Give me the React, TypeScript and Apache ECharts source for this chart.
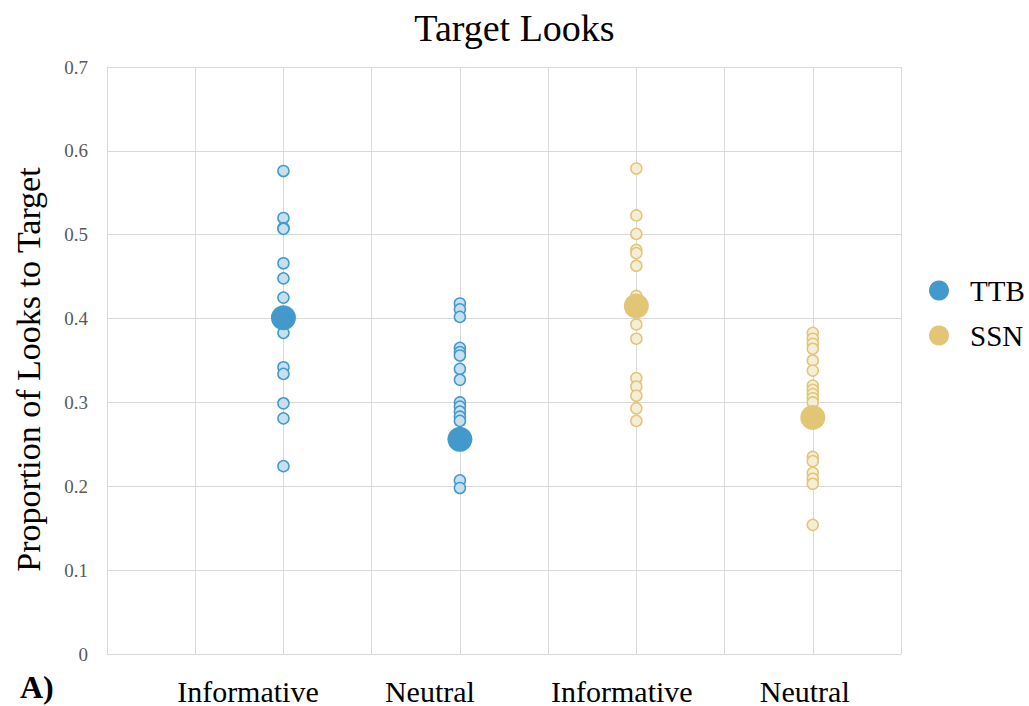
import React, { useEffect, useRef } from "react";
import * as echarts from "echarts";

const categories = ["Informative", "Neutral", "Informative", "Neutral"];
const yTicks = [0, 0.1, 0.2, 0.3, 0.4, 0.5, 0.6, 0.7];

const ttbInformative = [0.576, 0.52, 0.508, 0.507, 0.466, 0.448, 0.425, 0.405, 0.395, 0.383, 0.342, 0.334, 0.299, 0.281, 0.224];
const ttbNeutral = [0.418, 0.411, 0.402, 0.365, 0.36, 0.356, 0.34, 0.327, 0.3, 0.295, 0.289, 0.283, 0.278, 0.207, 0.198];
const ssnInformative = [0.579, 0.523, 0.501, 0.482, 0.478, 0.463, 0.427, 0.393, 0.376, 0.329, 0.319, 0.308, 0.293, 0.278];
const ssnNeutral = [0.383, 0.376, 0.37, 0.364, 0.35, 0.338, 0.32, 0.315, 0.31, 0.305, 0.3, 0.235, 0.23, 0.216, 0.209, 0.203, 0.154];

const ttbMeans = [0.401, 0.256];
const ssnMeans = [0.415, 0.282];

const BLUE = "#4499cc";
const GOLD = "#e2c676";
const FONT = "'Liberation Serif', 'Times New Roman', serif";

export default function App() {
  const ref = useRef<HTMLDivElement>(null);
  useEffect(() => {
    if (!ref.current) return;
    const chart = echarts.init(ref.current, null, { renderer: "svg" });
    const pts = (x: number, arr: number[]) => arr.map((v) => [x, v]);
    const small = (color: string, fill: string) => ({
      type: "scatter",
      symbolSize: 11,
      itemStyle: { color: fill, borderColor: color, borderWidth: 1.5, opacity: 1 },
      z: 2,
    });
    const labelStyle = (padRight: number) => ({
      fontFamily: FONT,
      fontSize: 30,
      color: "#000",
      padding: [0, padRight, 0, 0],
    });
    chart.setOption({
      animation: false,
      title: {
        text: "Target Looks",
        left: "center",
        top: 4,
        textStyle: { fontFamily: FONT, fontSize: 38, fontWeight: "normal", color: "#000" },
      },
      legend: {
        data: ["TTB", "SSN"],
        orient: "vertical",
        left: 924,
        top: 271,
        icon: "circle",
        itemWidth: 20,
        itemHeight: 20,
        itemGap: 16,
        textStyle: { fontFamily: FONT, fontSize: 29, color: "#000", padding: [0, 0, 0, 16] },
      },
      grid: { left: 107, right: 128, top: 67, bottom: 52, containLabel: false },
      xAxis: {
        type: "value",
        min: 0,
        max: 4.5,
        interval: 0.5,
        axisLine: { show: true, lineStyle: { color: "#d9d9d9" } },
        axisTick: { show: false },
        splitLine: { show: true, lineStyle: { color: "#d9d9d9" } },
        axisLabel: {
          margin: 22,
          fontFamily: FONT,
          fontSize: 30,
          color: "#000",
          formatter: (v: number) =>
            Number.isInteger(v) && v >= 1 && v <= 4 ? `{c${v}|${categories[v - 1]}}` : "",
          rich: {
            c1: labelStyle(71),
            c2: labelStyle(60),
            c3: labelStyle(29),
            c4: labelStyle(16),
          },
        },
      },
      yAxis: {
        type: "value",
        min: 0,
        max: 0.7,
        interval: 0.1,
        name: "Proportion of Looks to Target",
        nameLocation: "middle",
        nameRotate: 90,
        nameGap: 62,
        nameTextStyle: { fontFamily: FONT, fontSize: 34, color: "#000", padding: [0, 18, 0, 0] },
        axisLine: { show: true, lineStyle: { color: "#d9d9d9" } },
        axisTick: { show: false },
        splitLine: { show: true, lineStyle: { color: "#d9d9d9" } },
        axisLabel: {
          margin: 19,
          fontFamily: FONT,
          fontSize: 19,
          color: "#595959",
          formatter: (v: number) => {
            const t = yTicks.find((x) => Math.abs(x - v) < 1e-6);
            return t === 0 ? "0" : (t ?? v).toFixed(1);
          },
        },
      },
      graphic: [
        {
          type: "text",
          left: 20,
          top: 671,
          style: { text: "A)", font: `bold 32px ${FONT}`, fill: "#000" },
        },
      ],
      series: [
        { name: "TTB pts", ...small(BLUE, "#c6e0f0"), data: [...pts(1, ttbInformative), ...pts(2, ttbNeutral)] },
        { name: "SSN pts", ...small(GOLD, "#f5eed6"), data: [...pts(3, ssnInformative), ...pts(4, ssnNeutral)] },
        {
          name: "TTB",
          type: "scatter",
          symbolSize: 25,
          itemStyle: { color: BLUE, opacity: 1 },
          z: 3,
          data: ttbMeans.map((v, i) => [i + 1, v]),
        },
        {
          name: "SSN",
          type: "scatter",
          symbolSize: 25,
          itemStyle: { color: GOLD, opacity: 1 },
          z: 3,
          data: ssnMeans.map((v, i) => [i + 3, v]),
        },
      ],
    });
    return () => chart.dispose();
  }, []);
  return <div ref={ref} style={{ position: "absolute", left: 0, top: 0, width: 1029, height: 706 }} />;
}
